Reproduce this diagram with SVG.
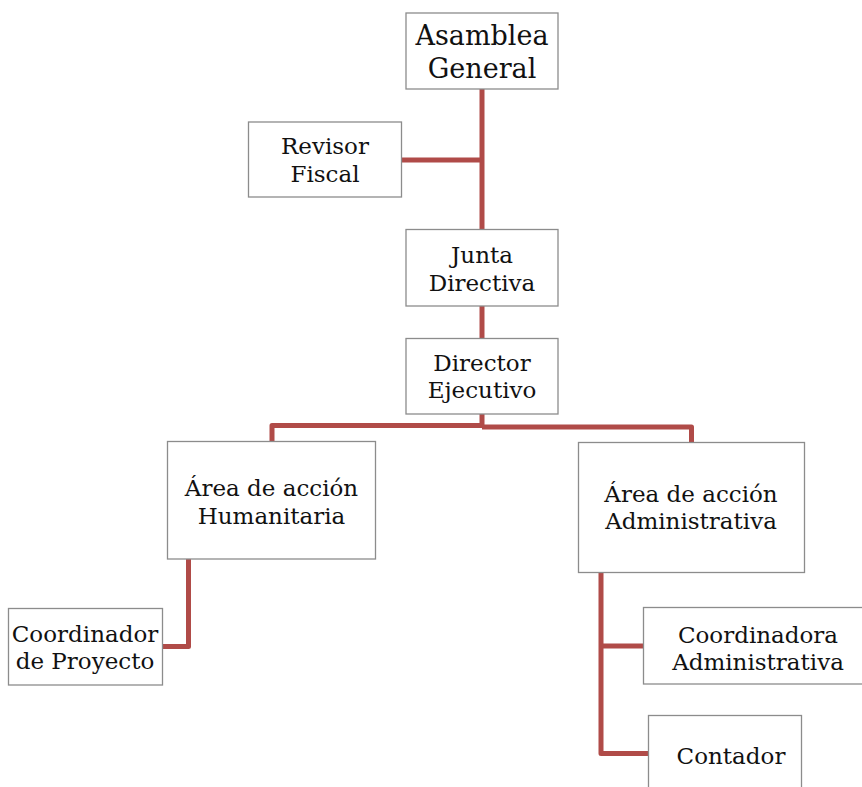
<svg xmlns="http://www.w3.org/2000/svg" width="862" height="787" viewBox="0 0 862 787">
<style>
.box{fill:#fff;stroke:#8c8c8c;stroke-width:1.3}
.t{font-family:"DejaVu Serif","Liberation Serif",serif;font-size:23px;fill:#111;text-anchor:middle}
.big{font-size:27px}
.c{fill:none;stroke:#B04B48;stroke-width:5;stroke-linejoin:round}
</style>
<rect width="862" height="787" fill="#fff"/>
<g id="connectors">
<path class="c" d="M482 89 V229"/>
<path class="c" d="M401 160 H482"/>
<path class="c" d="M482 306 V338"/>
<path class="c" d="M482 414 V425.5 H272 V441.5"/>
<path class="c" d="M482 427 H691.5 V442"/>
<path class="c" d="M188.5 559 V646.5 H162"/>
<path class="c" d="M601 572 V753.5 H648.5"/>
<path class="c" d="M601 646 H643.5"/>
</g>
<g id="asamblea">
<rect class="box" x="406" y="13" width="152" height="76"/>
<text class="t big" x="482" y="45">Asamblea</text>
<text class="t big" x="482" y="78">General</text>
</g>
<g id="revisor">
<rect class="box" x="248.5" y="122" width="153" height="75"/>
<text class="t" x="325" y="154">Revisor</text>
<text class="t" x="325" y="182">Fiscal</text>
</g>
<g id="junta">
<rect class="box" x="406" y="229.5" width="152" height="76.5"/>
<text class="t" x="482" y="263">Junta</text>
<text class="t" x="482" y="291">Directiva</text>
</g>
<g id="director">
<rect class="box" x="406" y="338.5" width="152" height="75.5"/>
<text class="t" x="482" y="370.5">Director</text>
<text class="t" x="482" y="398">Ejecutivo</text>
</g>
<g id="humanitaria">
<rect class="box" x="167.5" y="441.5" width="208" height="117.5"/>
<text class="t" x="271.5" y="496">Área de acción</text>
<text class="t" x="271.5" y="523.5">Humanitaria</text>
</g>
<g id="administrativa">
<rect class="box" x="578.5" y="442.5" width="226" height="130"/>
<text class="t" x="691" y="501.5">Área de acción</text>
<text class="t" x="691" y="529">Administrativa</text>
</g>
<g id="coordinador">
<rect class="box" x="8.5" y="608.5" width="154" height="76.5"/>
<text class="t" x="85" y="641.5">Coordinador</text>
<text class="t" x="85" y="669">de Proyecto</text>
</g>
<g id="coordinadora">
<rect class="box" x="643.5" y="607.5" width="230" height="76.5"/>
<text class="t" x="758" y="642.5">Coordinadora</text>
<text class="t" x="758" y="669.5">Administrativa</text>
</g>
<g id="contador">
<rect class="box" x="648.5" y="715.5" width="153" height="100"/>
<text class="t" x="731" y="764">Contador</text>
</g>
</svg>
